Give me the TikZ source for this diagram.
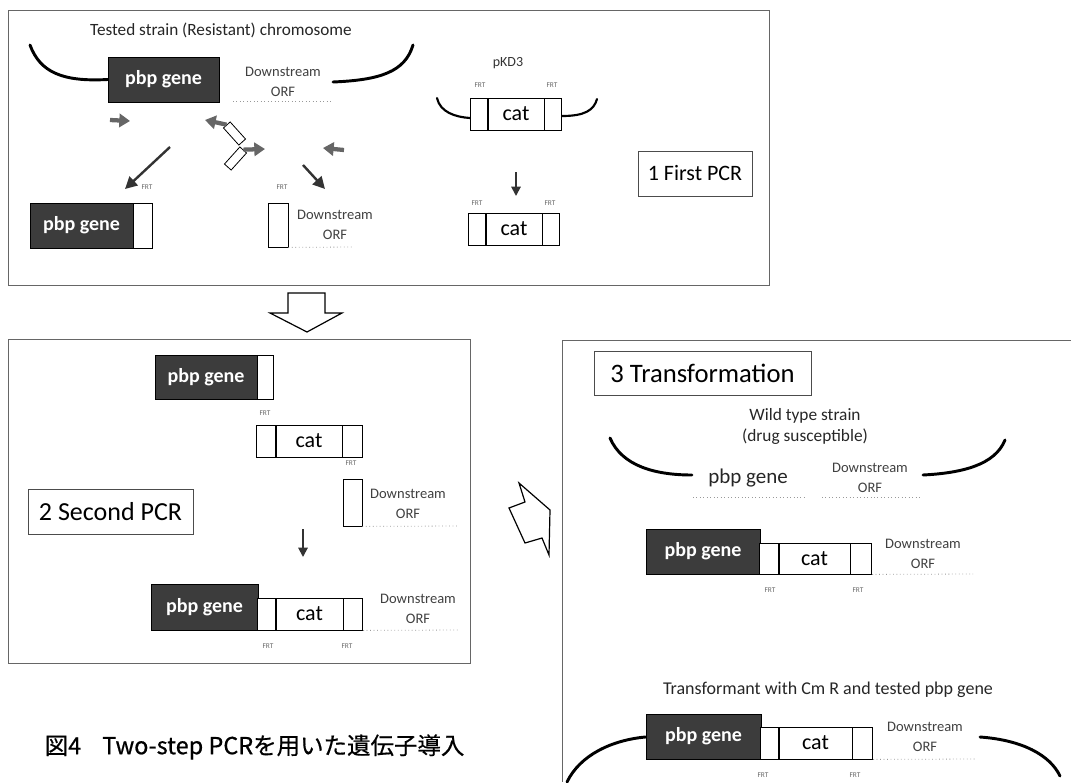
\documentclass[tikz,border=0pt]{standalone}
\usepackage{fontspec}
\setmainfont{Carlito}
\newfontfamily\jpfont[FakeBold=0.6]{Noto Sans CJK JP}
\usetikzlibrary{arrows.meta}
\definecolor{gene}{HTML}{3C3C3C}
\newcommand\fsz[2]{\fontsize{#1}{#2}\selectfont}
\begin{document}
\begin{tikzpicture}[x=0.75pt,y=-0.75pt,
  sz/.style 2 args={minimum width=#1*0.75pt, minimum height=#2*0.75pt},
  pbpbox/.style={draw=black, fill=gene, text=white, font=\fsz{15pt}{18pt}\bfseries, inner sep=0pt, line width=0.6pt},
  whitebox/.style={draw=black, fill=white, inner sep=0pt, line width=0.6pt},
  catbox/.style={whitebox, font=\fsz{16.5pt}{19pt}},
  ds/.style={font=\fsz{10.9pt}{14.5pt}, align=center, text=black!75},
  frt/.style={font=\fsz{5.5pt}{6pt}, text=black!60},
  panel/.style={draw=black!60, line width=0.6pt, inner sep=0pt},
  stagebox/.style={draw=black!70, fill=white, line width=0.6pt, inner sep=0pt},
  chromo/.style={line width=2.2pt, black, line cap=round},
  dotline/.style={black!40, dotted, line width=0.6pt},
  primer/.style={-{Triangle[length=8pt,width=10pt]}, line width=3.2pt, black!60},
  longarrow/.style={-{Triangle[length=9pt,width=9pt]}, line width=1.8pt, black!80},
  downarrow/.style={-{Triangle[length=7pt,width=7pt]}, line width=1.4pt, black!80},
  bigarrow/.style={draw=black, line width=0.9pt, fill=white, line join=miter},
]
\useasboundingbox (0,0) rectangle (1071,782);

% ---------------- Panel 1 ----------------
\node[panel, sz={761}{275}] (panel1) at (388.5,147.5) {};
\node[font=\fsz{12.9pt}{15pt}, text=black!85] (title1) at (221,30) {Tested strain (Resistant) chromosome};

\node[pbpbox, sz={111}{45}] (pbp1) at (163.5,79.5) {pbp gene};
\node[ds] (ds1) at (283,82) {Downstream\\ORF};
\coordinate (ds1a) at (233,101);
\coordinate (ds1b) at (333,101);
\draw[dotline] (ds1a) -- (ds1b);
\coordinate (c1a) at (30,45);
\coordinate (c1b) at (333,82);
\coordinate (c1c) at (413,45);
\draw[chromo] (c1a) .. controls (40,72) and (62,82) .. (pbp1.west);
\draw[chromo] (c1b) .. controls (380,80) and (405,72) .. (c1c);

% primers
\coordinate (p1a) at (110,120);
\coordinate (p1b) at (130,121);
\draw[primer] (p1a) -- (p1b);
\node[whitebox, sz={23}{9}, rotate=-48] (r1) at (234.5,133.5) {};
\coordinate (t1) at (205,120);
\draw[primer] (r1.west) -- (t1);
\node[whitebox, sz={23}{9}, rotate=48] (r2) at (235.5,158.5) {};
\coordinate (t2) at (265,149);
\draw[primer] (r2.east) -- (t2);
\coordinate (p4a) at (344,150);
\coordinate (p4b) at (323,148);
\draw[primer] (p4a) -- (p4b);

\coordinate (la1) at (170,147);
\coordinate (la2) at (125,189);
\draw[longarrow] (la1) -- (la2);
\coordinate (la3) at (303,165);
\coordinate (la4) at (325,189);
\draw[longarrow] (la3) -- (la4);

\node[frt] (f1) at (147,187) {FRT};
\node[frt] (f2) at (282,187) {FRT};

\node[pbpbox, sz={103}{45}] (pbp2) at (81.5,225.5) {pbp gene};
\node[whitebox, sz={19}{45}, anchor=west] (w2) at (pbp2.east) {};

\node[whitebox, sz={20}{44}] (w3) at (278,225) {};
\node[ds] (ds3) at (335,225) {Downstream\\ORF};
\coordinate (ds3b) at (353,247);
\draw[dotline] (w3.south east) -- (ds3b);

% pKD3
\node[font=\fsz{10.5pt}{12pt}, text=black!80] (pkd) at (508,63) {pKD3};
\node[frt] (f3) at (480,85) {FRT};
\node[frt] (f4) at (552,85) {FRT};
\node[catbox, sz={56}{32}] (cat1) at (516,114) {cat};
\node[whitebox, sz={17}{32}, anchor=east] (fl1) at (cat1.west) {};
\node[whitebox, sz={17}{32}, anchor=west] (fr1) at (cat1.east) {};
\coordinate (k1) at (437,98);
\coordinate (k2) at (597,99);
\draw[chromo, line width=1.6pt] (k1) .. controls (440,112) and (455,117) .. (fl1.west |- 0,118);
\draw[chromo, line width=1.6pt] (fr1.east |- 0,116) .. controls (585,116) and (594,110) .. (k2);
\coordinate (d1a) at (516,172);
\coordinate (d1b) at (516,196);
\draw[downarrow] (d1a) -- (d1b);

\node[frt] (f5) at (477,203) {FRT};
\node[frt] (f6) at (550,203) {FRT};
\node[catbox, sz={56}{32}] (cat2) at (514,229) {cat};
\node[whitebox, sz={17}{32}, anchor=east] (fl2) at (cat2.west) {};
\node[whitebox, sz={17}{32}, anchor=west] (fr2) at (cat2.east) {};

\node[stagebox, sz={114}{45}, font=\fsz{16.5pt}{19pt}] (s1) at (695,173.5) {1 First PCR};

% hollow down arrow
\draw[bigarrow] (288,293) -- (325,293) -- (325,313) -- (342,313) -- (307,332) -- (270,313) -- (288,313) -- cycle;

% ---------------- Panel 2 ----------------
\node[panel, sz={462}{324}] (panel2) at (239,501) {};

\node[pbpbox, sz={102}{44}] (pbp3) at (206,377) {pbp gene};
\node[whitebox, sz={16}{44}, anchor=west] (w4) at (pbp3.east) {};
\node[frt] (f7) at (265,413) {FRT};
\node[catbox, sz={66}{32}] (cat3) at (309,441) {cat};
\node[whitebox, sz={19}{32}, anchor=east] (fl3) at (cat3.west) {};
\node[whitebox, sz={20}{32}, anchor=west] (fr3) at (cat3.east) {};
\node[frt] (f8) at (351,463) {FRT};
\node[whitebox, sz={19}{47}] (w5) at (352.5,502.5) {};
\node[ds] (ds5) at (408,504) {Downstream\\ORF};
\coordinate (ds5b) at (457,526);
\draw[dotline] (w5.south east) -- (ds5b);

\node[stagebox, sz={165}{45}, font=\fsz{19.5pt}{22pt}] (s2) at (110.5,511.5) {2 Second PCR};
\coordinate (d2a) at (303,529);
\coordinate (d2b) at (303,557);
\draw[downarrow] (d2a) -- (d2b);

\node[pbpbox, sz={107}{46}] (pbp4) at (204.5,607) {pbp gene};
\node[catbox, sz={67}{32}] (cat4) at (309.5,614) {cat};
\node[whitebox, sz={18}{32}, anchor=east] (fl4) at (cat4.west) {};
\node[whitebox, sz={19}{32}, anchor=west] (fr4) at (cat4.east) {};
\node[ds] (ds6) at (418,609) {Downstream\\ORF};
\coordinate (ds6b) at (460,630);
\draw[dotline] (fr4.south east) -- (ds6b);
\node[frt] (f9) at (268,646) {FRT};
\node[frt] (f10) at (347,646) {FRT};

% zigzag arrow
\draw[bigarrow] (519,483) -- (550,510) -- (549,555) -- (542,538) -- (525,543) -- (509,508) -- (525,502) -- cycle;

% ---------------- Panel 3 ----------------
\coordinate (pa) at (1071,340);
\coordinate (pb) at (562,340);
\coordinate (pc) at (562,782);
\draw[draw=black!60, line width=0.6pt] (pa) -- (pb) -- (pc);

\node[stagebox, sz={217}{44}, font=\fsz{20pt}{23pt}] (s3) at (702.5,373) {3 Transformation};
\node[font=\fsz{13pt}{15.75pt}, align=center, text=black!85] (wt) at (805,426) {Wild type strain\\(drug susceptible)};

\node[font=\fsz{15.75pt}{18pt}, text=black!85] (pbpw) at (748,478) {pbp gene};
\coordinate (u1a) at (693,497);
\coordinate (u1b) at (805,497);
\draw[dotline] (u1a) -- (u1b);
\node[ds] (ds7) at (870,478) {Downstream\\ORF};
\coordinate (u2a) at (822,497);
\coordinate (u2b) at (920,497);
\draw[dotline] (u2a) -- (u2b);
\coordinate (c3a) at (610,438);
\coordinate (c3b) at (692,475);
\coordinate (c3c) at (923,475);
\coordinate (c3d) at (1005,440);
\draw[chromo] (c3a) .. controls (622,466) and (655,475) .. (c3b);
\draw[chromo] (c3c) .. controls (962,473) and (995,465) .. (c3d);

\node[pbpbox, sz={114}{45}] (pbp5) at (703,551.5) {pbp gene};
\node[catbox, sz={71}{31}] (cat5) at (814.5,558.5) {cat};
\node[whitebox, sz={19}{31}, anchor=east] (fl5) at (cat5.west) {};
\node[whitebox, sz={21}{31}, anchor=west] (fr5) at (cat5.east) {};
\node[ds] (ds8) at (923,554) {Downstream\\ORF};
\coordinate (u3b) at (973,574);
\draw[dotline] (fr5.south east) -- (u3b);
\node[frt] (f11) at (770,590) {FRT};
\node[frt] (f12) at (858,590) {FRT};

\node[font=\fsz{13.5pt}{16pt}, text=black!85] (tf) at (828,690) {Transformant with Cm R and tested pbp gene};

\node[pbpbox, sz={115}{45}] (pbp6) at (703.5,736.5) {pbp gene};
\node[catbox, sz={73}{32}] (cat6) at (815.5,743) {cat};
\node[whitebox, sz={18}{32}, anchor=east] (fl6) at (cat6.west) {};
\node[whitebox, sz={20}{32}, anchor=west] (fr6) at (cat6.east) {};
\node[ds] (ds9) at (925,737) {Downstream\\ORF};
\coordinate (u4b) at (975,759);
\draw[dotline] (fr6.south east) -- (u4b);
\node[frt] (f13) at (763,775) {FRT};
\node[frt] (f14) at (855,775) {FRT};
\coordinate (c4a) at (567,782);
\coordinate (c4b) at (980,737);
\coordinate (c4c) at (1060,776);
\draw[chromo] (pbp6.west |- 0,737) .. controls (612,740) and (580,755) .. (c4a);
\draw[chromo] (c4b) .. controls (1022,740) and (1050,755) .. (c4c);

% caption
\node[anchor=west, font=\jpfont\fsz{17.6pt}{20pt}] (cap) at (40,747) {図4\hspace{0.9em}Two-step PCRを用いた遺伝子導入};
\end{tikzpicture}
\end{document}
